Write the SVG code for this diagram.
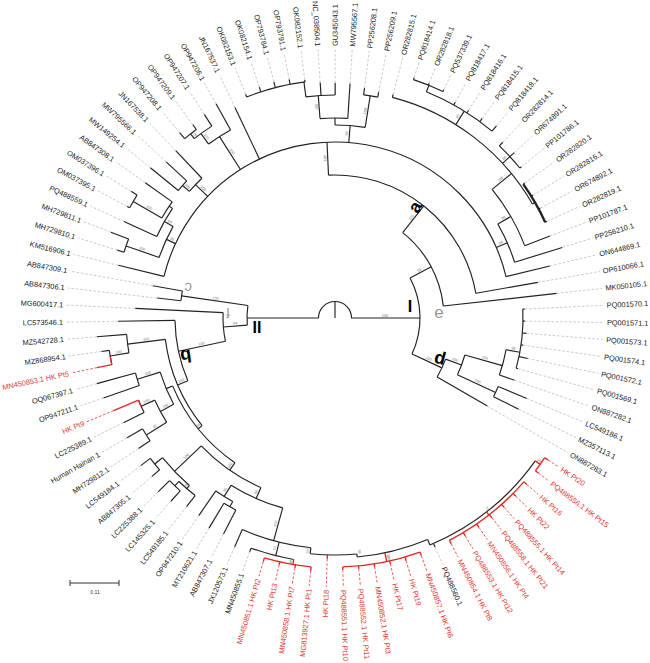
<svg xmlns="http://www.w3.org/2000/svg" width="650" height="663" viewBox="0 0 650 663">
<style>
.b{fill:none;stroke:#222;stroke-width:1.15}
.r{fill:none;stroke:#e0261f;stroke-width:1.35}
.bd{fill:none;stroke:#222;stroke-width:2.4}
.ds{stroke:#b8b8b8;stroke-width:0.7;stroke-dasharray:2.6 1.8}
.t{font-family:"Liberation Sans",Arial,sans-serif;font-size:7.4px;fill:#222}
.tl{text-anchor:end}
.tr{fill:#e2372f}
.bs{font-family:"Liberation Sans",Arial,sans-serif;font-size:3.8px;fill:#777;text-anchor:middle}
.cl{font-family:"Liberation Sans",Arial,sans-serif;font-weight:bold;text-anchor:middle}
</style>
<rect width="650" height="663" fill="#fff"/>
<g transform="translate(335,318)">
<g id="connectors">
<!-- root -->
<circle class="b" r="16.5" transform="rotate(180)" stroke-dasharray="51.84 3000"/>
<line class="b" x1="0" x2="16.5" transform="rotate(-90)"/>
<line class="b" x1="16.5" x2="85" transform="rotate(0)"/>
<line class="b" x1="16.5" x2="88" transform="rotate(180)"/>
<!-- arcs -->
<circle class="b" r="85" transform="rotate(-28)" stroke-dasharray="78.63 3000"/>
<circle class="b" r="109" transform="rotate(-51.6)" stroke-dasharray="86.12 3000"/>
<circle class="b" r="143" transform="rotate(-92.6)" stroke-dasharray="206.25 3000"/>
<circle class="b" r="176" transform="rotate(-166.3)" stroke-dasharray="469.06 3000"/>
<circle class="b" r="186" transform="rotate(-161)" stroke-dasharray="34.09 3000"/>
<circle class="b" r="221" transform="rotate(-162.69)" stroke-dasharray="14.04 3000"/>
<circle class="b" r="196" transform="rotate(-155.42)" stroke-dasharray="32.22 3000"/>
<circle class="b" r="200" transform="rotate(-150)" stroke-dasharray="19.16 3000"/>
<circle class="b" r="233" transform="rotate(-151.78)" stroke-dasharray="14.76 3000"/>
<circle class="b" r="193" transform="rotate(-139)" stroke-dasharray="18.19 3000"/>
<circle class="b" r="202" transform="rotate(-140.87)" stroke-dasharray="12.8 3000"/>
<circle class="b" r="215" transform="rotate(-126)" stroke-dasharray="26.08 3000"/>
<circle class="b" r="228" transform="rotate(-128.1)" stroke-dasharray="21.53 3000"/>
<circle class="b" r="234" transform="rotate(-129.96)" stroke-dasharray="14.82 3000"/>
<circle class="b" r="193" transform="rotate(-90)" stroke-dasharray="30.32 3000"/>
<circle class="b" r="200" transform="rotate(-94.3)" stroke-dasharray="27.82 3000"/>
<circle class="b" r="223" transform="rotate(-97.5)" stroke-dasharray="29.35 3000"/>
<circle class="b" r="238" transform="rotate(-111.8)" stroke-dasharray="60.65 3000"/>
<circle class="b" r="225" transform="rotate(-82.69)" stroke-dasharray="14.29 3000"/>
<circle class="b" r="188" transform="rotate(-30)" stroke-dasharray="41.87 3000"/>
<circle class="b" r="203" transform="rotate(-39.3)" stroke-dasharray="65.3 3000"/>
<circle class="b" r="228" transform="rotate(-75.42)" stroke-dasharray="180.74 3000"/>
<circle class="b" r="244" transform="rotate(-68)" stroke-dasharray="76.83 3000"/>
<circle class="b" r="251" transform="rotate(-71.78)" stroke-dasharray="31.85 3000"/>
<circle class="b" r="238" transform="rotate(-46.33)" stroke-dasharray="30.24 3000"/>
<circle class="bd" r="231" transform="rotate(-35.42)" stroke-dasharray="43.99 3000"/>
<circle class="b" r="118" transform="rotate(20.4)" stroke-dasharray="19.85 3000"/>
<circle class="b" r="135" transform="rotate(15.9)" stroke-dasharray="21.21 3000"/>
<circle class="b" r="177" transform="rotate(22.76)" stroke-dasharray="11.24 3000"/>
<circle class="b" r="174" transform="rotate(10.5)" stroke-dasharray="26.21 3000"/>
<circle class="b" r="188" transform="rotate(-2.69)" stroke-dasharray="59.65 3000"/>
<circle class="b" r="88" transform="rotate(175.4)" stroke-dasharray="19.66 3000"/>
<circle class="b" r="155" transform="rotate(186.4)" stroke-dasharray="9.85 3000"/>
<circle class="b" r="112" transform="rotate(168)" stroke-dasharray="28.85 3000"/>
<circle class="b" r="160" transform="rotate(156.9)" stroke-dasharray="62.08 3000"/>
<circle class="b" r="171" transform="rotate(141)" stroke-dasharray="94.91 3000"/>
<circle class="b" r="209" transform="rotate(170.4)" stroke-dasharray="18.57 3000"/>
<circle class="b" r="228" transform="rotate(168.22)" stroke-dasharray="14.44 3000"/>
<circle class="r" r="228" transform="rotate(168.22)" stroke-dasharray="8.67 3000"/>
<circle class="b" r="176" transform="rotate(124.65)" stroke-dasharray="100.29 3000"/>
<circle class="b" r="183" transform="rotate(151.85)" stroke-dasharray="34.97 3000"/>
<circle class="b" r="207" transform="rotate(160.95)" stroke-dasharray="13.11 3000"/>
<circle class="b" r="198" transform="rotate(148.2)" stroke-dasharray="25.23 3000"/>
<circle class="b" r="213" transform="rotate(153.67)" stroke-dasharray="13.53 3000"/>
<circle class="r" r="213" transform="rotate(155.5)" stroke-dasharray="6.73 3000"/>
<circle class="b" r="222" transform="rotate(146.4)" stroke-dasharray="14.1 3000"/>
<circle class="b" r="185" transform="rotate(113.6)" stroke-dasharray="73.3 3000"/>
<circle class="b" r="222" transform="rotate(131)" stroke-dasharray="38.75 3000"/>
<circle class="b" r="232" transform="rotate(139.13)" stroke-dasharray="14.7 3000"/>
<circle class="b" r="226" transform="rotate(128.22)" stroke-dasharray="21.5 3000"/>
<circle class="b" r="232" transform="rotate(131.85)" stroke-dasharray="14.74 3000"/>
<circle class="b" r="197" transform="rotate(105.4)" stroke-dasharray="56.56 3000"/>
<circle class="b" r="210" transform="rotate(119.13)" stroke-dasharray="19.98 3000"/>
<circle class="b" r="216" transform="rotate(117.31)" stroke-dasharray="13.72 3000"/>
<circle class="b" r="231" transform="rotate(96)" stroke-dasharray="71.24 3000"/>
<circle class="b" r="245" transform="rotate(99.7)" stroke-dasharray="44.21 3000"/>
<circle class="r" r="250" transform="rotate(95.49)" stroke-dasharray="47.6 3000"/>
<circle class="b" r="237" transform="rotate(84.7)" stroke-dasharray="46.74 3000"/>
<circle class="b" r="240" transform="rotate(67.3)" stroke-dasharray="72.88 3000"/>
<circle class="r" r="249" transform="rotate(70.04)" stroke-dasharray="79.01 3000"/>
<circle class="b" r="246" transform="rotate(35.5)" stroke-dasharray="136.53 3000"/>
<circle class="r" r="250" transform="rotate(40.95)" stroke-dasharray="95.16 3000"/>
<circle class="r" r="252" transform="rotate(33.67)" stroke-dasharray="16.01 3000"/>
<!-- internal stems -->
<line class="b" x1="85" x2="109" transform="rotate(-28)"/>
<line class="b" x1="109" x2="143" transform="rotate(-51.6)"/>
<line class="b" x1="143" x2="176" transform="rotate(-92.6)"/>
<line class="b" x1="176" x2="186" transform="rotate(-155)"/>
<line class="b" x1="186" x2="221" transform="rotate(-161)"/>
<line class="b" x1="186" x2="196" transform="rotate(-150.5)"/>
<line class="b" x1="196" x2="200" transform="rotate(-146)"/>
<line class="b" x1="200" x2="233" transform="rotate(-150)"/>
<line class="b" x1="176" x2="193" transform="rotate(-136.3)"/>
<line class="b" x1="193" x2="202" transform="rotate(-139)"/>
<line class="b" x1="176" x2="215" transform="rotate(-122.5)"/>
<line class="b" x1="215" x2="228" transform="rotate(-126)"/>
<line class="b" x1="228" x2="234" transform="rotate(-128.1)"/>
<line class="b" x1="176" x2="193" transform="rotate(-85.5)"/>
<line class="b" x1="193" x2="200" transform="rotate(-90)"/>
<line class="b" x1="200" x2="223" transform="rotate(-94.3)"/>
<line class="b" x1="223" x2="238" transform="rotate(-97.5)"/>
<line class="b" x1="193" x2="225" transform="rotate(-81)"/>
<line class="b" x1="176" x2="188" transform="rotate(-23.6)"/>
<line class="b" x1="188" x2="203" transform="rotate(-30)"/>
<line class="b" x1="203" x2="228" transform="rotate(-39.3)"/>
<line class="b" x1="228" x2="244" transform="rotate(-58)"/>
<line class="b" x1="244" x2="251" transform="rotate(-68)"/>
<line class="b" x1="228" x2="238" transform="rotate(-42.7)"/>
<line class="b" x1="228" x2="231" transform="rotate(-30)"/>
<line class="b" x1="85" x2="118" transform="rotate(25)"/>
<line class="b" x1="118" x2="135" transform="rotate(20.4)"/>
<line class="b" x1="135" x2="177" transform="rotate(24.9)"/>
<line class="b" x1="135" x2="174" transform="rotate(15.9)"/>
<line class="b" x1="174" x2="188" transform="rotate(10.5)"/>
<line class="b" x1="88" x2="155" transform="rotate(188.2)"/>
<line class="b" x1="88" x2="112" transform="rotate(175.4)"/>
<line class="b" x1="112" x2="160" transform="rotate(168)"/>
<line class="b" x1="160" x2="171" transform="rotate(156.9)"/>
<line class="b" x1="171" x2="209" transform="rotate(172.8)"/>
<line class="b" x1="209" x2="228" transform="rotate(170.4)"/>
<line class="b" x1="171" x2="176" transform="rotate(141)"/>
<line class="b" x1="176" x2="183" transform="rotate(157.3)"/>
<line class="b" x1="183" x2="207" transform="rotate(162.8)"/>
<line class="b" x1="183" x2="198" transform="rotate(151.85)"/>
<line class="b" x1="198" x2="213" transform="rotate(155.5)"/>
<line class="b" x1="198" x2="222" transform="rotate(148.2)"/>
<line class="b" x1="176" x2="185" transform="rotate(124.65)"/>
<line class="b" x1="185" x2="222" transform="rotate(136.3)"/>
<line class="b" x1="222" x2="232" transform="rotate(141)"/>
<line class="b" x1="222" x2="226" transform="rotate(131)"/>
<line class="b" x1="226" x2="232" transform="rotate(133.67)"/>
<line class="b" x1="185" x2="197" transform="rotate(113.6)"/>
<line class="b" x1="197" x2="210" transform="rotate(121.85)"/>
<line class="b" x1="210" x2="216" transform="rotate(119.13)"/>
<line class="b" x1="197" x2="231" transform="rotate(105.4)"/>
<line class="b" x1="231" x2="245" transform="rotate(104)"/>
<line class="r" x1="245" x2="250" transform="rotate(99.7)"/>
<line class="b" x1="231" x2="237" transform="rotate(96)"/>
<line class="b" x1="237" x2="240" transform="rotate(84.7)"/>
<line class="r" x1="240" x2="249" transform="rotate(78)"/>
<line class="b" x1="240" x2="246" transform="rotate(67.3)"/>
<line class="r" x1="246" x2="250" transform="rotate(52)"/>
<line class="r" x1="246" x2="252" transform="rotate(35.5)"/>
<!-- leaf branches -->
<line class="b" x1="223" x2="236" transform="rotate(-93.6)"/><line class="ds" x1="236" x2="269" transform="rotate(-93.6)"/>
<line class="b" x1="238" x2="240" transform="rotate(-97.24)"/><line class="ds" x1="240" x2="269" transform="rotate(-97.24)"/>
<line class="b" x1="238" x2="243" transform="rotate(-100.87)"/><line class="ds" x1="243" x2="269" transform="rotate(-100.87)"/>
<line class="b" x1="238" x2="244" transform="rotate(-104.51)"/><line class="ds" x1="244" x2="269" transform="rotate(-104.51)"/>
<line class="b" x1="238" x2="243" transform="rotate(-108.15)"/><line class="ds" x1="243" x2="269" transform="rotate(-108.15)"/>
<line class="b" x1="238" x2="241" transform="rotate(-111.78)"/><line class="ds" x1="241" x2="269" transform="rotate(-111.78)"/>
<line class="b" x1="176" x2="233" transform="rotate(-115.42)"/><line class="ds" x1="233" x2="269" transform="rotate(-115.42)"/>
<line class="b" x1="215" x2="245" transform="rotate(-119.05)"/><line class="ds" x1="245" x2="269" transform="rotate(-119.05)"/>
<line class="b" x1="228" x2="242" transform="rotate(-122.69)"/><line class="ds" x1="242" x2="269" transform="rotate(-122.69)"/>
<line class="b" x1="234" x2="240" transform="rotate(-126.33)"/><line class="ds" x1="240" x2="269" transform="rotate(-126.33)"/>
<line class="b" x1="234" x2="242" transform="rotate(-129.96)"/><line class="ds" x1="242" x2="269" transform="rotate(-129.96)"/>
<line class="b" x1="193" x2="231" transform="rotate(-133.6)"/><line class="ds" x1="231" x2="269" transform="rotate(-133.6)"/>
<line class="b" x1="202" x2="230" transform="rotate(-137.24)"/><line class="ds" x1="230" x2="269" transform="rotate(-137.24)"/>
<line class="b" x1="202" x2="238" transform="rotate(-140.87)"/><line class="ds" x1="238" x2="269" transform="rotate(-140.87)"/>
<line class="b" x1="200" x2="233" transform="rotate(-144.51)"/><line class="ds" x1="233" x2="269" transform="rotate(-144.51)"/>
<line class="b" x1="233" x2="240" transform="rotate(-148.15)"/><line class="ds" x1="240" x2="269" transform="rotate(-148.15)"/>
<line class="b" x1="233" x2="236" transform="rotate(-151.78)"/><line class="ds" x1="236" x2="269" transform="rotate(-151.78)"/>
<line class="b" x1="196" x2="232" transform="rotate(-155.42)"/><line class="ds" x1="232" x2="269" transform="rotate(-155.42)"/>
<line class="b" x1="221" x2="240" transform="rotate(-159.05)"/><line class="ds" x1="240" x2="269" transform="rotate(-159.05)"/>
<line class="b" x1="221" x2="228" transform="rotate(-162.69)"/><line class="ds" x1="228" x2="269" transform="rotate(-162.69)"/>
<line class="b" x1="176" x2="223" transform="rotate(-166.33)"/><line class="ds" x1="223" x2="269" transform="rotate(-166.33)"/>
<line class="b" x1="155" x2="185" transform="rotate(190.04)"/><line class="ds" x1="185" x2="269" transform="rotate(190.04)"/>
<line class="b" x1="155" x2="179" transform="rotate(186.4)"/><line class="ds" x1="179" x2="269" transform="rotate(186.4)"/>
<line class="b" x1="112" x2="200" transform="rotate(182.76)"/><line class="ds" x1="200" x2="269" transform="rotate(182.76)"/>
<line class="b" x1="160" x2="217" transform="rotate(179.13)"/><line class="ds" x1="217" x2="269" transform="rotate(179.13)"/>
<line class="b" x1="209" x2="239" transform="rotate(175.49)"/><line class="ds" x1="239" x2="269" transform="rotate(175.49)"/>
<line class="b" x1="228" x2="236" transform="rotate(171.85)"/><line class="ds" x1="236" x2="269" transform="rotate(171.85)"/>
<line class="r" x1="228" x2="243" transform="rotate(168.22)"/><line class="ds" x1="243" x2="269" transform="rotate(168.22)" style="stroke:#e0261f"/>
<line class="b" x1="207" x2="247" transform="rotate(164.58)"/><line class="ds" x1="247" x2="269" transform="rotate(164.58)"/>
<line class="b" x1="207" x2="245" transform="rotate(160.95)"/><line class="ds" x1="245" x2="269" transform="rotate(160.95)"/>
<line class="r" x1="213" x2="240" transform="rotate(157.31)"/><line class="ds" x1="240" x2="269" transform="rotate(157.31)" style="stroke:#e0261f"/>
<line class="b" x1="213" x2="236" transform="rotate(153.67)"/><line class="ds" x1="236" x2="269" transform="rotate(153.67)"/>
<line class="b" x1="222" x2="240" transform="rotate(150.04)"/><line class="ds" x1="240" x2="269" transform="rotate(150.04)"/>
<line class="b" x1="222" x2="236" transform="rotate(146.4)"/><line class="ds" x1="236" x2="269" transform="rotate(146.4)"/>
<line class="b" x1="232" x2="244" transform="rotate(142.76)"/><line class="ds" x1="244" x2="269" transform="rotate(142.76)"/>
<line class="b" x1="232" x2="242" transform="rotate(139.13)"/><line class="ds" x1="242" x2="269" transform="rotate(139.13)"/>
<line class="b" x1="232" x2="248" transform="rotate(135.49)"/><line class="ds" x1="248" x2="269" transform="rotate(135.49)"/>
<line class="b" x1="232" x2="246" transform="rotate(131.85)"/><line class="ds" x1="246" x2="269" transform="rotate(131.85)"/>
<line class="b" x1="226" x2="240" transform="rotate(128.22)"/><line class="ds" x1="240" x2="269" transform="rotate(128.22)"/>
<line class="b" x1="210" x2="240" transform="rotate(124.58)"/><line class="ds" x1="240" x2="269" transform="rotate(124.58)"/>
<line class="b" x1="216" x2="245" transform="rotate(120.95)"/><line class="ds" x1="245" x2="269" transform="rotate(120.95)"/>
<line class="b" x1="216" x2="243" transform="rotate(117.31)"/><line class="ds" x1="243" x2="269" transform="rotate(117.31)"/>
<line class="b" x1="231" x2="250" transform="rotate(113.67)"/><line class="ds" x1="250" x2="269" transform="rotate(113.67)"/>
<line class="b" x1="245" x2="249" transform="rotate(110.04)"/><line class="ds" x1="249" x2="269" transform="rotate(110.04)"/>
<line class="r" x1="250" x2="254" transform="rotate(106.4)"/><line class="ds" x1="254" x2="269" transform="rotate(106.4)" style="stroke:#e0261f"/>
<line class="r" x1="250" x2="253" transform="rotate(102.76)"/><line class="ds" x1="253" x2="269" transform="rotate(102.76)" style="stroke:#e0261f"/>
<line class="r" x1="250" x2="253" transform="rotate(99.13)"/><line class="ds" x1="253" x2="269" transform="rotate(99.13)" style="stroke:#e0261f"/>
<line class="r" x1="250" x2="254" transform="rotate(95.49)"/><line class="ds" x1="254" x2="269" transform="rotate(95.49)" style="stroke:#e0261f"/>
<line class="r" x1="237" x2="241" transform="rotate(91.85)"/><line class="ds" x1="241" x2="269" transform="rotate(91.85)" style="stroke:#e0261f"/>
<line class="r" x1="249" x2="252" transform="rotate(88.22)"/><line class="ds" x1="252" x2="269" transform="rotate(88.22)" style="stroke:#e0261f"/>
<line class="r" x1="249" x2="252" transform="rotate(84.58)"/><line class="ds" x1="252" x2="269" transform="rotate(84.58)" style="stroke:#e0261f"/>
<line class="r" x1="249" x2="252" transform="rotate(80.95)"/><line class="ds" x1="252" x2="269" transform="rotate(80.95)" style="stroke:#e0261f"/>
<line class="r" x1="249" x2="252" transform="rotate(77.31)"/><line class="ds" x1="252" x2="269" transform="rotate(77.31)" style="stroke:#e0261f"/>
<line class="r" x1="249" x2="253" transform="rotate(73.67)"/><line class="ds" x1="253" x2="269" transform="rotate(73.67)" style="stroke:#e0261f"/>
<line class="r" x1="249" x2="253" transform="rotate(70.04)"/><line class="ds" x1="253" x2="269" transform="rotate(70.04)" style="stroke:#e0261f"/>
<line class="b" x1="246" x2="250" transform="rotate(66.4)"/><line class="ds" x1="250" x2="269" transform="rotate(66.4)"/>
<line class="r" x1="250" x2="254" transform="rotate(62.76)"/><line class="ds" x1="254" x2="269" transform="rotate(62.76)" style="stroke:#e0261f"/>
<line class="r" x1="250" x2="254" transform="rotate(59.13)"/><line class="ds" x1="254" x2="269" transform="rotate(59.13)" style="stroke:#e0261f"/>
<line class="r" x1="250" x2="254" transform="rotate(55.49)"/><line class="ds" x1="254" x2="269" transform="rotate(55.49)" style="stroke:#e0261f"/>
<line class="r" x1="250" x2="254" transform="rotate(51.85)"/><line class="ds" x1="254" x2="269" transform="rotate(51.85)" style="stroke:#e0261f"/>
<line class="r" x1="250" x2="254" transform="rotate(48.22)"/><line class="ds" x1="254" x2="269" transform="rotate(48.22)" style="stroke:#e0261f"/>
<line class="r" x1="250" x2="254" transform="rotate(44.58)"/><line class="ds" x1="254" x2="269" transform="rotate(44.58)" style="stroke:#e0261f"/>
<line class="r" x1="250" x2="254" transform="rotate(40.95)"/><line class="ds" x1="254" x2="269" transform="rotate(40.95)" style="stroke:#e0261f"/>
<line class="r" x1="252" x2="256" transform="rotate(37.31)"/><line class="ds" x1="256" x2="269" transform="rotate(37.31)" style="stroke:#e0261f"/>
<line class="r" x1="252" x2="256" transform="rotate(33.67)"/><line class="ds" x1="256" x2="269" transform="rotate(33.67)" style="stroke:#e0261f"/>
<line class="b" x1="118" x2="176" transform="rotate(30.04)"/><line class="ds" x1="176" x2="269" transform="rotate(30.04)"/>
<line class="b" x1="177" x2="205" transform="rotate(26.4)"/><line class="ds" x1="205" x2="269" transform="rotate(26.4)"/>
<line class="b" x1="177" x2="208" transform="rotate(22.76)"/><line class="ds" x1="208" x2="269" transform="rotate(22.76)"/>
<line class="b" x1="174" x2="190" transform="rotate(19.13)"/><line class="ds" x1="190" x2="269" transform="rotate(19.13)"/>
<line class="b" x1="188" x2="190" transform="rotate(15.49)"/><line class="ds" x1="190" x2="269" transform="rotate(15.49)"/>
<line class="b" x1="188" x2="197" transform="rotate(11.86)"/><line class="ds" x1="197" x2="269" transform="rotate(11.86)"/>
<line class="b" x1="188" x2="190" transform="rotate(8.22)"/><line class="ds" x1="190" x2="269" transform="rotate(8.22)"/>
<line class="b" x1="188" x2="192" transform="rotate(4.58)"/><line class="ds" x1="192" x2="269" transform="rotate(4.58)"/>
<line class="b" x1="188" x2="190" transform="rotate(0.95)"/><line class="ds" x1="190" x2="269" transform="rotate(0.95)"/>
<line class="b" x1="188" x2="190" transform="rotate(-2.69)"/><line class="ds" x1="190" x2="269" transform="rotate(-2.69)"/>
<line class="b" x1="109" x2="223" transform="rotate(-6.33)"/><line class="ds" x1="223" x2="269" transform="rotate(-6.33)"/>
<line class="b" x1="143" x2="206" transform="rotate(-9.96)"/><line class="ds" x1="206" x2="269" transform="rotate(-9.96)"/>
<line class="b" x1="176" x2="221" transform="rotate(-13.6)"/><line class="ds" x1="221" x2="269" transform="rotate(-13.6)"/>
<line class="b" x1="188" x2="238" transform="rotate(-17.24)"/><line class="ds" x1="238" x2="269" transform="rotate(-17.24)"/>
<line class="b" x1="203" x2="230" transform="rotate(-20.87)"/><line class="ds" x1="230" x2="269" transform="rotate(-20.87)"/>
<line class="b" x1="231" x2="233" transform="rotate(-24.51)"/><line class="ds" x1="233" x2="269" transform="rotate(-24.51)"/>
<line class="b" x1="231" x2="233" transform="rotate(-28.15)"/><line class="ds" x1="233" x2="269" transform="rotate(-28.15)"/>
<line class="b" x1="231" x2="233" transform="rotate(-31.78)"/><line class="ds" x1="233" x2="269" transform="rotate(-31.78)"/>
<line class="b" x1="231" x2="233" transform="rotate(-35.42)"/><line class="ds" x1="233" x2="269" transform="rotate(-35.42)"/>
<line class="b" x1="238" x2="240" transform="rotate(-39.05)"/><line class="ds" x1="240" x2="269" transform="rotate(-39.05)"/>
<line class="b" x1="238" x2="244" transform="rotate(-42.69)"/><line class="ds" x1="244" x2="269" transform="rotate(-42.69)"/>
<line class="b" x1="238" x2="243" transform="rotate(-46.33)"/><line class="ds" x1="243" x2="269" transform="rotate(-46.33)"/>
<line class="b" x1="244" x2="251" transform="rotate(-49.96)"/><line class="ds" x1="251" x2="269" transform="rotate(-49.96)"/>
<line class="b" x1="244" x2="248" transform="rotate(-53.6)"/><line class="ds" x1="248" x2="269" transform="rotate(-53.6)"/>
<line class="b" x1="244" x2="247" transform="rotate(-57.24)"/><line class="ds" x1="247" x2="269" transform="rotate(-57.24)"/>
<line class="b" x1="244" x2="247" transform="rotate(-60.87)"/><line class="ds" x1="247" x2="269" transform="rotate(-60.87)"/>
<line class="b" x1="251" x2="253" transform="rotate(-64.51)"/><line class="ds" x1="253" x2="269" transform="rotate(-64.51)"/>
<line class="b" x1="251" x2="253" transform="rotate(-68.15)"/><line class="ds" x1="253" x2="269" transform="rotate(-68.15)"/>
<line class="b" x1="251" x2="253" transform="rotate(-71.78)"/><line class="ds" x1="253" x2="269" transform="rotate(-71.78)"/>
<line class="b" x1="228" x2="231" transform="rotate(-75.42)"/><line class="ds" x1="231" x2="269" transform="rotate(-75.42)"/>
<line class="b" x1="225" x2="230" transform="rotate(-79.05)"/><line class="ds" x1="230" x2="269" transform="rotate(-79.05)"/>
<line class="b" x1="225" x2="232" transform="rotate(-82.69)"/><line class="ds" x1="232" x2="269" transform="rotate(-82.69)"/>
<line class="b" x1="200" x2="235" transform="rotate(-86.33)"/><line class="ds" x1="235" x2="269" transform="rotate(-86.33)"/>
<line class="b" x1="223" x2="235" transform="rotate(-89.96)"/><line class="ds" x1="235" x2="269" transform="rotate(-89.96)"/>
</g>
<g id="bootstrap">
<text class="bs" transform="rotate(0) translate(50,-1.4)">100</text>
<text class="bs" transform="rotate(-28) translate(97,-1.4)">95</text>
<text class="bs" transform="rotate(-51.6) translate(126,-1.4)">100</text>
<text class="bs" transform="rotate(-92.6) translate(160,-1.4)">100</text>
<text class="bs" transform="rotate(25) translate(102,-1.4)">100</text>
<text class="bs" transform="rotate(20.4) translate(127,-1.4)">100</text>
<text class="bs" transform="rotate(24.9) translate(156,-1.4)">100</text>
<text class="bs" transform="rotate(15.9) translate(155,-1.4)">100</text>
<text class="bs" transform="rotate(10.5) translate(181,-1.4)">99</text>
<text class="bs" transform="rotate(-85.5) translate(185,-1.4)">98</text>
<text class="bs" transform="rotate(-94.3) translate(212,-1.4)">100</text>
<text class="bs" transform="rotate(-81) translate(209,-1.4)">100</text>
<text class="bs" transform="rotate(-23.6) translate(182,-1.4)">94</text>
<text class="bs" transform="rotate(-30) translate(196,-1.4)">99</text>
<text class="bs" transform="rotate(-39.3) translate(216,-1.4)">100</text>
<text class="bs" transform="rotate(-58) translate(236,-1.4)">95</text>
<text class="bs" transform="rotate(-42.7) translate(233,-1.4)">96</text>
<text class="bs" transform="rotate(78) translate(245,-1.4)">100</text>
<text class="bs" transform="rotate(84.7) translate(235,-1.4)">95</text>
<text class="bs" transform="rotate(35.5) translate(249,-1.4)">99</text>
<text class="bs" transform="rotate(52) translate(244,-1.4)">71</text>
<text class="bs" transform="rotate(-155) rotate(180) translate(-181,-1.4)">98</text>
<text class="bs" transform="rotate(25) translate(-205,-1.4)" opacity="0"></text>
<text class="bs" transform="rotate(19) translate(-205,-1.4)">100</text>
<text class="bs" transform="rotate(29.5) translate(-191,-1.4)">94</text>
<text class="bs" transform="rotate(30) translate(-216,-1.4)">100</text>
<text class="bs" transform="rotate(43.7) translate(-185,-1.4)">100</text>
<text class="bs" transform="rotate(41) translate(-198,-1.4)">100</text>
<text class="bs" transform="rotate(57.5) translate(-196,-1.4)">100</text>
<text class="bs" transform="rotate(54) translate(-222,-1.4)">100</text>
<text class="bs" transform="rotate(51.9) translate(-231,-1.4)">100</text>
<text class="bs" transform="rotate(8.2) translate(-121,-1.4)">100</text>
<text class="bs" transform="rotate(-4.6) translate(-100,-1.4)">94</text>
<text class="bs" transform="rotate(-12) translate(-136,-1.4)">100</text>
<text class="bs" transform="rotate(-23.1) translate(-166,-1.4)">100</text>
<text class="bs" transform="rotate(-7.2) translate(-190,-1.4)">100</text>
<text class="bs" transform="rotate(-9.6) translate(-219,-1.4)">100</text>
<text class="bs" transform="rotate(-39) translate(-174,-1.4)">98</text>
<text class="bs" transform="rotate(-17.2) translate(-195,-1.4)">100</text>
<text class="bs" transform="rotate(-28.15) translate(-191,-1.4)">100</text>
<text class="bs" transform="rotate(-24.5) translate(-206,-1.4)">100</text>
<text class="bs" transform="rotate(-31.8) translate(-210,-1.4)">97</text>
<text class="bs" transform="rotate(-55.35) translate(-181,-1.4)">100</text>
<text class="bs" transform="rotate(-43.7) translate(-203,-1.4)">100</text>
<text class="bs" transform="rotate(-49) translate(-224,-1.4)">96</text>
<text class="bs" transform="rotate(-66.4) translate(-191,-1.4)">98</text>
<text class="bs" transform="rotate(-58.15) translate(-204,-1.4)">96</text>
<text class="bs" transform="rotate(-74.6) translate(-214,-1.4)">100</text>
<text class="bs" transform="rotate(-76) translate(-238,-1.4)">72</text>
<text class="bs" transform="rotate(-80.3) translate(-248,-1.4)">86</text>
<text class="bs" transform="rotate(-84) translate(-234,-1.4)">100</text>
</g>
</g>
<g id="leaves" transform="translate(335,318)">
<g id="n01"><text class="t tl" transform="rotate(86.4)" x="-272" dy="2.6">NC_038504.1</text></g>
<g id="n02"><text class="t tl" transform="rotate(82.76)" x="-272" dy="2.6">OK082152.1</text></g>
<g id="n03"><text class="t tl" transform="rotate(79.13)" x="-272" dy="2.6">OP793791.1</text></g>
<g id="n04"><text class="t tl" transform="rotate(75.49)" x="-272" dy="2.6">OP793784.1</text></g>
<g id="n05"><text class="t tl" transform="rotate(71.85)" x="-272" dy="2.6">OK082154.1</text></g>
<g id="n06"><text class="t tl" transform="rotate(68.22)" x="-272" dy="2.6">OK082153.1</text></g>
<g id="n07"><text class="t tl" transform="rotate(64.58)" x="-272" dy="2.6">JN167537.1</text></g>
<g id="n08"><text class="t tl" transform="rotate(60.95)" x="-272" dy="2.6">OP947206.1</text></g>
<g id="n09"><text class="t tl" transform="rotate(57.31)" x="-272" dy="2.6">OP947207.1</text></g>
<g id="n10"><text class="t tl" transform="rotate(53.67)" x="-272" dy="2.6">OP947209.1</text></g>
<g id="n11"><text class="t tl" transform="rotate(50.04)" x="-272" dy="2.6">OP947208.1</text></g>
<g id="n12"><text class="t tl" transform="rotate(46.4)" x="-272" dy="2.6">JN167538.1</text></g>
<g id="n13"><text class="t tl" transform="rotate(42.76)" x="-272" dy="2.6">MW795566.1</text></g>
<g id="n14"><text class="t tl" transform="rotate(39.13)" x="-272" dy="2.6">MW149254.1</text></g>
<g id="n15"><text class="t tl" transform="rotate(35.49)" x="-272" dy="2.6">AB847308.1</text></g>
<g id="n16"><text class="t tl" transform="rotate(31.85)" x="-272" dy="2.6">OM037396.1</text></g>
<g id="n17"><text class="t tl" transform="rotate(28.22)" x="-272" dy="2.6">OM037395.1</text></g>
<g id="n18"><text class="t tl" transform="rotate(24.58)" x="-272" dy="2.6">PQ488559.1</text></g>
<g id="n19"><text class="t tl" transform="rotate(20.95)" x="-272" dy="2.6">MH729811.1</text></g>
<g id="n20"><text class="t tl" transform="rotate(17.31)" x="-272" dy="2.6">MH729810.1</text></g>
<g id="n21"><text class="t tl" transform="rotate(13.67)" x="-272" dy="2.6">KM516906.1</text></g>
<g id="n22"><text class="t tl" transform="rotate(10.04)" x="-272" dy="2.6">AB847309.1</text></g>
<g id="n23"><text class="t tl" transform="rotate(6.4)" x="-272" dy="2.6">AB847306.1</text></g>
<g id="n24"><text class="t tl" transform="rotate(2.76)" x="-272" dy="2.6">MG600417.1</text></g>
<g id="n25"><text class="t tl" transform="rotate(-0.87)" x="-272" dy="2.6">LC573546.1</text></g>
<g id="n26"><text class="t tl" transform="rotate(-4.51)" x="-272" dy="2.6">MZ542728.1</text></g>
<g id="n27"><text class="t tl" transform="rotate(-8.15)" x="-272" dy="2.6">MZ868954.1</text></g>
<g id="n28"><text class="t tl tr" transform="rotate(-11.78)" x="-272" dy="2.6">MN450853.1 HK Pt5</text></g>
<g id="n29"><text class="t tl" transform="rotate(-15.42)" x="-272" dy="2.6">OQ067397.1</text></g>
<g id="n30"><text class="t tl" transform="rotate(-19.05)" x="-272" dy="2.6">OP947211.1</text></g>
<g id="n31"><text class="t tl tr" transform="rotate(-22.69)" x="-272" dy="2.6">HK Pt9</text></g>
<g id="n32"><text class="t tl" transform="rotate(-26.33)" x="-272" dy="2.6">LC225389.1</text></g>
<g id="n33"><text class="t tl" transform="rotate(-29.96)" x="-272" dy="2.6">Human Hainan 1</text></g>
<g id="n34"><text class="t tl" transform="rotate(-33.6)" x="-272" dy="2.6">MH729812.1</text></g>
<g id="n35"><text class="t tl" transform="rotate(-37.24)" x="-272" dy="2.6">LC549184.1</text></g>
<g id="n36"><text class="t tl" transform="rotate(-40.87)" x="-272" dy="2.6">AB847305.1</text></g>
<g id="n37"><text class="t tl" transform="rotate(-44.51)" x="-272" dy="2.6">LC225388.1</text></g>
<g id="n38"><text class="t tl" transform="rotate(-48.15)" x="-272" dy="2.6">LC145325.1</text></g>
<g id="n39"><text class="t tl" transform="rotate(-51.78)" x="-272" dy="2.6">LC549185.1</text></g>
<g id="n40"><text class="t tl" transform="rotate(-55.42)" x="-272" dy="2.6">OP947210.1</text></g>
<g id="n41"><text class="t tl" transform="rotate(-59.05)" x="-272" dy="2.6">MT210621.1</text></g>
<g id="n42"><text class="t tl" transform="rotate(-62.69)" x="-272" dy="2.6">AB847307.1</text></g>
<g id="n43"><text class="t tl" transform="rotate(-66.33)" x="-272" dy="2.6">JX120573.1</text></g>
<g id="n44"><text class="t tl" transform="rotate(-69.96)" x="-272" dy="2.6">MN450855.1</text></g>
<g id="n45"><text class="t tl tr" transform="rotate(-73.6)" x="-272" dy="2.6">MN450851.1 HK Pt2</text></g>
<g id="n46"><text class="t tl tr" transform="rotate(-77.24)" x="-272" dy="2.6">HK Pt13</text></g>
<g id="n47"><text class="t tl tr" transform="rotate(-80.87)" x="-272" dy="2.6">MN450858.1 HK Pt7</text></g>
<g id="n48"><text class="t tl tr" transform="rotate(-84.51)" x="-272" dy="2.6">MG813927.1 HK Pt1</text></g>
<g id="n49"><text class="t tl tr" transform="rotate(-88.15)" x="-272" dy="2.6">HK Pt18</text></g>
<g id="n50"><text class="t tr" transform="rotate(88.22)" x="272" dy="2.6">PQ488551.1 HK Pt10</text></g>
<g id="n51"><text class="t tr" transform="rotate(84.58)" x="272" dy="2.6">PQ488552.1 HK Pt11</text></g>
<g id="n52"><text class="t tr" transform="rotate(80.95)" x="272" dy="2.6">MN450852.1 HK Pt3</text></g>
<g id="n53"><text class="t tr" transform="rotate(77.31)" x="272" dy="2.6">HK Pt17</text></g>
<g id="n54"><text class="t tr" transform="rotate(73.67)" x="272" dy="2.6">HK Pt19</text></g>
<g id="n55"><text class="t tr" transform="rotate(70.04)" x="272" dy="2.6">MN450857.1 HK Pt6</text></g>
<g id="n56"><text class="t" transform="rotate(66.4)" x="272" dy="2.6">PQ488560.1</text></g>
<g id="n57"><text class="t tr" transform="rotate(62.76)" x="272" dy="2.6">MN450854.1 HK Pt8</text></g>
<g id="n58"><text class="t tr" transform="rotate(59.13)" x="272" dy="2.6">PQ488553.1 HK Pt12</text></g>
<g id="n59"><text class="t tr" transform="rotate(55.49)" x="272" dy="2.6">MN450856.1 HK Pt4</text></g>
<g id="n60"><text class="t tr" transform="rotate(51.85)" x="272" dy="2.6">PQ488558.1 HK Pt21</text></g>
<g id="n61"><text class="t tr" transform="rotate(48.22)" x="272" dy="2.6">PQ488555.1 HK Pt14</text></g>
<g id="n62"><text class="t tr" transform="rotate(44.58)" x="272" dy="2.6">HK Pt22</text></g>
<g id="n63"><text class="t tr" transform="rotate(40.95)" x="272" dy="2.6">HK Pt16</text></g>
<g id="n64"><text class="t tr" transform="rotate(37.31)" x="272" dy="2.6">PQ488556.1 HK Pt15</text></g>
<g id="n65"><text class="t tr" transform="rotate(33.67)" x="272" dy="2.6">HK Pt20</text></g>
<g id="n66"><text class="t" transform="rotate(30.04)" x="272" dy="2.6">ON887283.1</text></g>
<g id="n67"><text class="t" transform="rotate(26.4)" x="272" dy="2.6">MZ357113.1</text></g>
<g id="n68"><text class="t" transform="rotate(22.76)" x="272" dy="2.6">LC549186.1</text></g>
<g id="n69"><text class="t" transform="rotate(19.13)" x="272" dy="2.6">ON887282.1</text></g>
<g id="n70"><text class="t" transform="rotate(15.49)" x="272" dy="2.6">PQ001569.1</text></g>
<g id="n71"><text class="t" transform="rotate(11.86)" x="272" dy="2.6">PQ001572.1</text></g>
<g id="n72"><text class="t" transform="rotate(8.22)" x="272" dy="2.6">PQ001574.1</text></g>
<g id="n73"><text class="t" transform="rotate(4.58)" x="272" dy="2.6">PQ001573.1</text></g>
<g id="n74"><text class="t" transform="rotate(0.95)" x="272" dy="2.6">PQ001571.1</text></g>
<g id="n75"><text class="t" transform="rotate(-2.69)" x="272" dy="2.6">PQ001570.1</text></g>
<g id="n76"><text class="t" transform="rotate(-6.33)" x="272" dy="2.6">MK050105.1</text></g>
<g id="n77"><text class="t" transform="rotate(-9.96)" x="272" dy="2.6">OP610066.1</text></g>
<g id="n78"><text class="t" transform="rotate(-13.6)" x="272" dy="2.6">ON644869.1</text></g>
<g id="n79"><text class="t" transform="rotate(-17.24)" x="272" dy="2.6">PP256210.1</text></g>
<g id="n80"><text class="t" transform="rotate(-20.87)" x="272" dy="2.6">PP101787.1</text></g>
<g id="n81"><text class="t" transform="rotate(-24.51)" x="272" dy="2.6">OR282819.1</text></g>
<g id="n82"><text class="t" transform="rotate(-28.15)" x="272" dy="2.6">OR674892.1</text></g>
<g id="n83"><text class="t" transform="rotate(-31.78)" x="272" dy="2.6">OR282816.1</text></g>
<g id="n84"><text class="t" transform="rotate(-35.42)" x="272" dy="2.6">OR282820.1</text></g>
<g id="n85"><text class="t" transform="rotate(-39.05)" x="272" dy="2.6">PP101786.1</text></g>
<g id="n86"><text class="t" transform="rotate(-42.69)" x="272" dy="2.6">OR674891.1</text></g>
<g id="n87"><text class="t" transform="rotate(-46.33)" x="272" dy="2.6">OR282814.1</text></g>
<g id="n88"><text class="t" transform="rotate(-49.96)" x="272" dy="2.6">PQ818418.1</text></g>
<g id="n89"><text class="t" transform="rotate(-53.6)" x="272" dy="2.6">PQ818415.1</text></g>
<g id="n90"><text class="t" transform="rotate(-57.24)" x="272" dy="2.6">PQ818416.1</text></g>
<g id="n91"><text class="t" transform="rotate(-60.87)" x="272" dy="2.6">PQ818417.1</text></g>
<g id="n92"><text class="t" transform="rotate(-64.51)" x="272" dy="2.6">PQ537339.1</text></g>
<g id="n93"><text class="t" transform="rotate(-68.15)" x="272" dy="2.6">OR282818.1</text></g>
<g id="n94"><text class="t" transform="rotate(-71.78)" x="272" dy="2.6">PQ818414.1</text></g>
<g id="n95"><text class="t" transform="rotate(-75.42)" x="272" dy="2.6">OR282815.1</text></g>
<g id="n96"><text class="t" transform="rotate(-79.05)" x="272" dy="2.6">PP256209.1</text></g>
<g id="n97"><text class="t" transform="rotate(-82.69)" x="272" dy="2.6">PP256208.1</text></g>
<g id="n98"><text class="t" transform="rotate(-86.33)" x="272" dy="2.6">MW795567.1</text></g>
<g id="n99"><text class="t" transform="rotate(-89.96)" x="272" dy="2.6">GU345043.1</text></g>
</g>
<g id="clade-labels">
<text class="cl" x="410" y="312" font-size="16">I</text>
<text class="cl" x="257" y="333" font-size="16">II</text>
<text class="cl" font-size="18" transform="translate(415,207) rotate(-62)" dy="6">a</text>
<text class="cl" font-size="18" transform="translate(186,356) rotate(172)" dy="6">b</text>
<text class="cl" font-size="15" fill="#999" style="font-weight:normal" transform="translate(188,288) rotate(188)" dy="5">c</text>
<text class="cl" font-size="18" transform="translate(440,358) rotate(15)" dy="6">d</text>
<text class="cl" font-size="17" fill="#999" style="font-weight:normal" x="439" y="318">e</text>
<text class="cl" font-size="14" fill="#999" style="font-weight:normal" transform="translate(228,313) rotate(178)" dy="5">f</text>
</g>
<g id="scale-bar">
<line x1="70" y1="583" x2="119" y2="583" stroke="#333" stroke-width="1"/>
<line x1="70" y1="580" x2="70" y2="586" stroke="#333" stroke-width="1"/>
<line x1="119" y1="580" x2="119" y2="586" stroke="#333" stroke-width="1"/>
<text x="95" y="594" font-family="Liberation Sans, Arial, sans-serif" font-size="5" text-anchor="middle" fill="#333">0.11</text>
</g>
</svg>
